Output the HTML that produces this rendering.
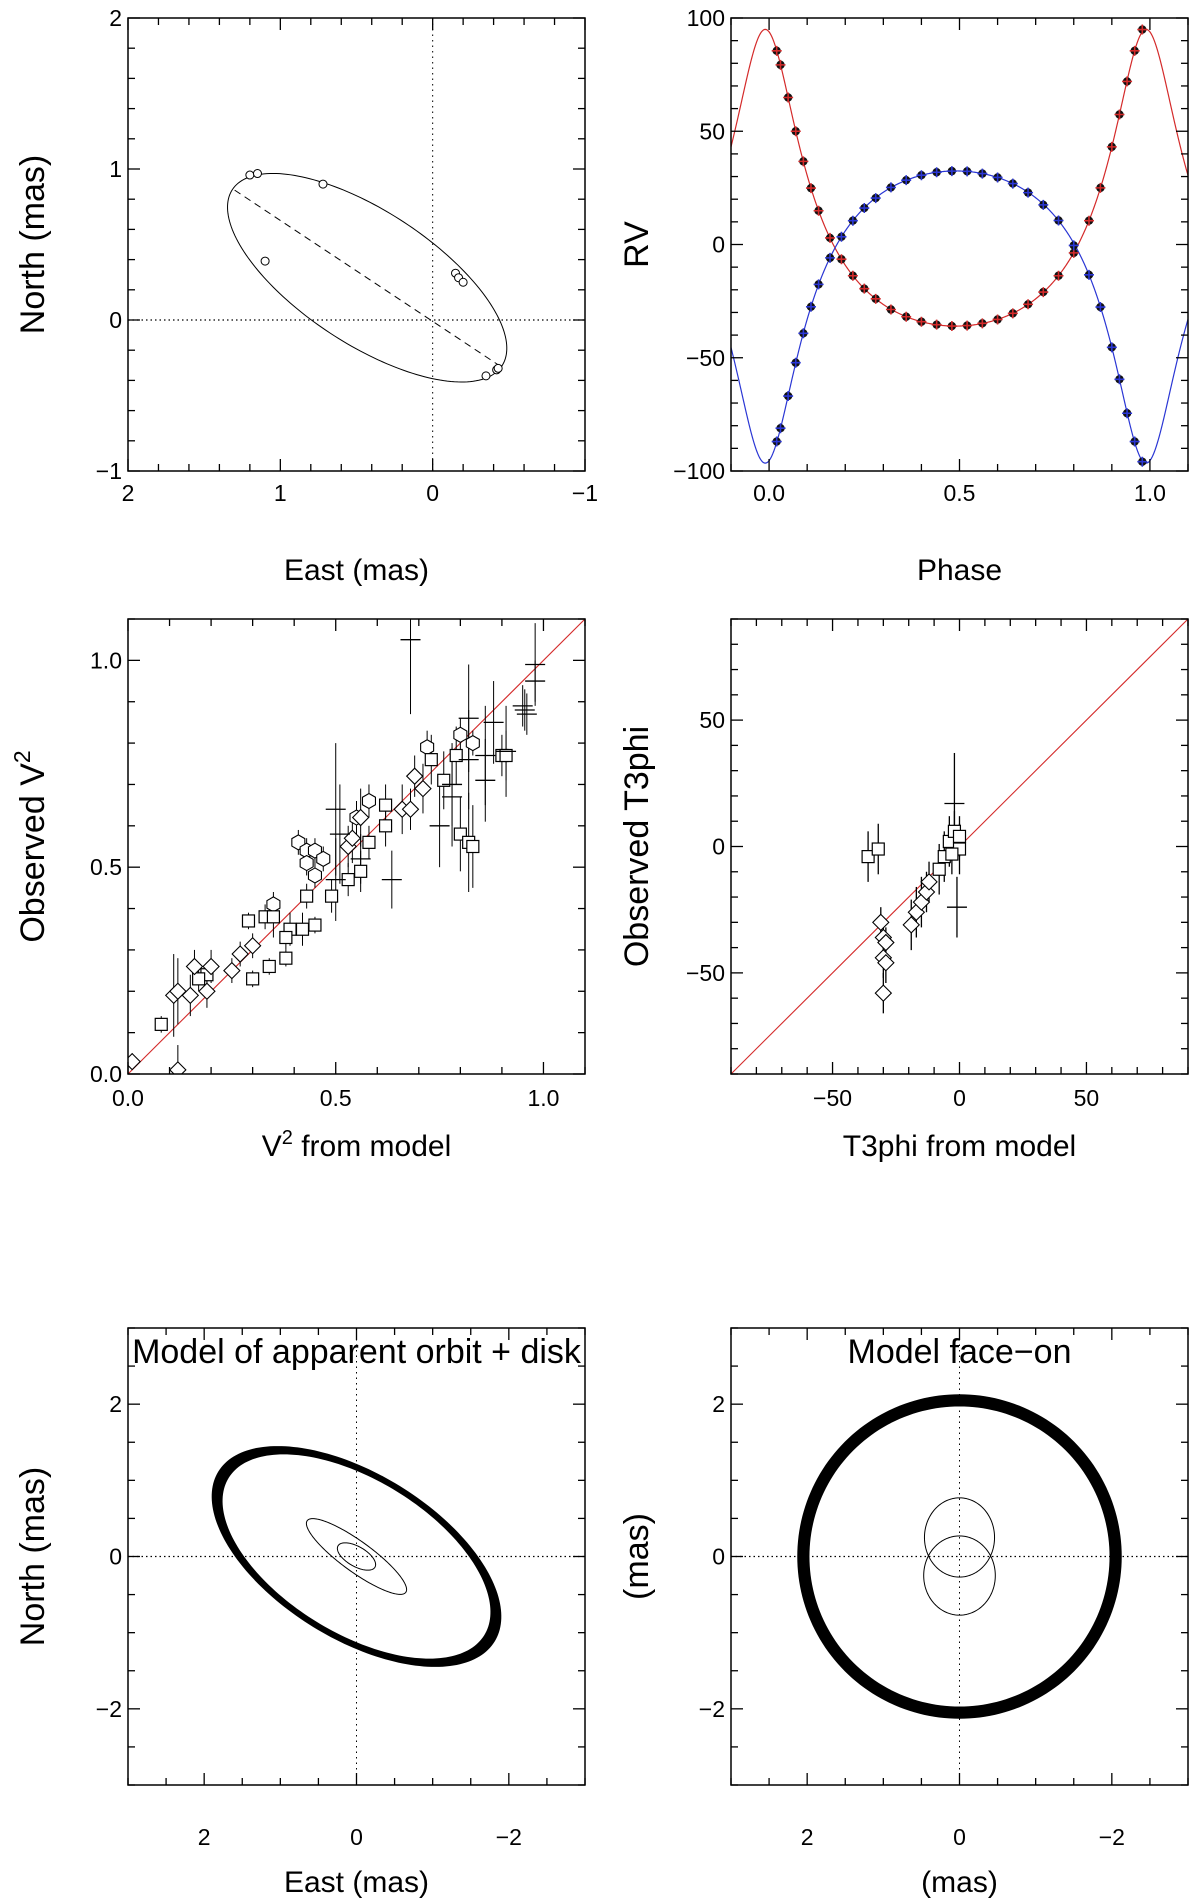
<!DOCTYPE html>
<html><head><meta charset="utf-8"><style>
html,body{margin:0;padding:0;background:#fff;}
svg{display:block;font-family:"Liberation Sans",sans-serif;}
</style></head><body>
<svg id="fig" width="1200" height="1900" viewBox="0 0 1200 1900" xmlns="http://www.w3.org/2000/svg"></svg>
<script>
// ===== Data =====
const orbitEllipse = {cx:0.43, cy:0.28, a:1.06, b:0.44, angDeg:33.5};
const nodeLine = [[1.30,0.86],[-0.45,-0.31]];
const astroE = [1.20,1.15,0.72,1.10,-0.15,-0.17,-0.20,-0.35,-0.42,-0.43];
const astroN = [0.96,0.97,0.90,0.39,0.31,0.28,0.25,-0.37,-0.33,-0.32];
const rvEcc = 0.45, rvT0 = -0.01;
const rvK1 = 65.5, rvGamma1 = 0.0, rvOmega1 = 0;
const rvK2 = 64.5, rvGamma2 = -3.0, rvOmega2 = 180;
const rvPhase = [0.02,0.03,0.05,0.07,0.09,0.11,0.13,0.16,0.19,0.22,0.25,0.28,0.32,0.36,0.40,0.44,0.48,0.52,0.56,0.60,0.64,0.68,0.72,0.76,0.80,0.84,0.87,0.90,0.92,0.94,0.96,0.98];
const rvRed = [85.5,79.3,64.9,50.0,36.7,24.9,14.9,2.9,-6.5,-13.8,-19.5,-24.0,-28.7,-31.9,-34.1,-35.4,-36.0,-35.8,-34.8,-33.1,-30.4,-26.4,-21.0,-13.8,-3.7,10.5,25.0,43.1,57.4,72.0,85.5,94.9];
const rvBlue = [-87.0,-81.1,-66.9,-52.2,-39.2,-27.5,-17.6,-5.9,3.4,10.5,16.1,20.5,25.2,28.4,30.6,31.9,32.4,32.3,31.3,29.6,26.9,22.9,17.5,10.6,-0.4,-13.4,-27.6,-45.4,-59.5,-74.5,-87.0,-95.9];
const v2Model = [0.41,0.43,0.45,0.43,0.47,0.45,0.35,0.80,0.83,0.72,0.55,0.58,
 0.08,0.19,0.17,0.29,0.33,0.35,0.39,0.42,0.45,0.38,0.43,0.30,0.34,0.38,0.49,0.53,0.56,0.58,0.62,0.62,0.73,0.76,0.79,0.80,0.82,0.83,0.90,0.91,
 0.01,0.12,0.11,0.12,0.15,0.16,0.20,0.19,0.25,0.27,0.30,0.53,0.54,0.56,0.66,0.68,0.69,0.71,
 0.68,0.98,0.98,0.95,0.955,0.96,0.82,0.88,0.86,0.86,0.75,0.78,0.78,0.635,0.50,0.51,0.50,0.56,0.82,0.91];
const v2Obs = [0.56,0.54,0.54,0.51,0.52,0.48,0.41,0.82,0.80,0.79,0.62,0.66,
 0.12,0.24,0.23,0.37,0.38,0.38,0.35,0.35,0.36,0.33,0.43,0.23,0.26,0.28,0.43,0.47,0.49,0.56,0.60,0.65,0.76,0.71,0.77,0.58,0.56,0.55,0.77,0.77,
 0.03,0.01,0.19,0.20,0.19,0.26,0.26,0.20,0.25,0.29,0.31,0.55,0.57,0.62,0.64,0.64,0.72,0.69,
 1.05,0.99,0.95,0.89,0.88,0.87,0.86,0.85,0.77,0.71,0.60,0.67,0.70,0.47,0.64,0.58,0.47,0.52,0.76,0.78];
const v2Err = [0.03,0.03,0.03,0.03,0.03,0.03,0.03,0.04,0.03,0.04,0.04,0.04,
 0.02,0.03,0.03,0.02,0.03,0.05,0.04,0.04,0.02,0.03,0.03,0.02,0.02,0.02,0.04,0.04,0.05,0.04,0.05,0.05,0.06,0.07,0.07,0.09,0.12,0.1,0.05,0.06,
 0.02,0.06,0.1,0.08,0.05,0.04,0.04,0.04,0.03,0.03,0.03,0.05,0.06,0.07,0.06,0.05,0.05,0.06,
 0.18,0.1,0.05,0.05,0.05,0.05,0.13,0.1,0.12,0.1,0.1,0.12,0.1,0.07,0.16,0.12,0.1,0.06,0.12,0.11];
const v2Type = ['h','h','h','h','h','h','h','h','h','h','h','h',
 's','s','s','s','s','s','s','s','s','s','s','s','s','s','s','s','s','s','s','s','s','s','s','s','s','s','s','s',
 'd','d','d','d','d','d','d','d','d','d','d','d','d','d','d','d','d','d',
 'x','x','x','x','x','x','x','x','x','x','x','x','x','x','x','x','x','x','x','x'];
const t3Model = [-36,-32,-31,-30,-29,-30,-29,-30,-19,-17,-15,-13,-12,-8,-6,-4,-2,0,-2,-1,0,-3];
const t3Obs = [-4,-1,-30,-36,-38,-44,-46,-58,-31,-26,-22,-18,-14,-9,-4,2,6,-1,17,-24,4,-3];
const t3Err = [10,10,6,8,6,8,8,8,10,10,10,8,8,10,10,10,8,10,20,12,8,8];
const t3Type = ['s','s','d','d','d','d','d','d','d','d','d','d','d','s','s','s','s','s','x','x','s','s'];
const diskOuter = 2.13, diskInner = 1.97, diskCosI = 0.51, diskPA = 31.6;
const appOrbits = [{a:0.80,b:0.20,ang:36},{a:0.28,b:0.13,ang:30}];
const faceOrbits = [{cx:0,cy:0.25,rx:0.46,ry:0.52},{cx:0,cy:-0.25,rx:0.47,ry:0.52}];

// ===== Rendering =====
const NS='http://www.w3.org/2000/svg';
const svg=document.getElementById('fig');
function el(tag,attrs,parent){const e=document.createElementNS(NS,tag);for(const k in attrs)e.setAttribute(k,attrs[k]);(parent||svg).appendChild(e);return e;}
function panel(box,xd,yd){
  const sx=v=>box.x+(v-xd[0])/(xd[1]-xd[0])*box.w;
  const sy=v=>box.y+box.h-(v-yd[0])/(yd[1]-yd[0])*box.h;
  return {box,xd,yd,sx,sy};
}
function fmt(v,dec){let s=v.toFixed(dec);if(v<0)s='\u2212'+(-v).toFixed(dec);return s;}
function axes(p,g,o){
  const b=p.box;
  const fr=el('rect',{x:b.x,y:b.y,width:b.w,height:b.h,fill:'none',stroke:'#000','stroke-width':1.5},g);
  
  
  const lo=(a)=>Math.min(a[0],a[1]),hi=(a)=>Math.max(a[0],a[1]);
  for(let v=Math.ceil(lo(p.xd)/o.xmin-1e-9)*o.xmin;v<=hi(p.xd)+1e-9;v+=o.xmin){
    const maj=Math.abs(v/o.xmaj-Math.round(v/o.xmaj))<1e-6;const L=maj?12:7;const X=p.sx(v);
    el('line',{x1:X,x2:X,y1:b.y+b.h,y2:b.y+b.h-L,stroke:'#000','stroke-width':1.3},g);
    el('line',{x1:X,x2:X,y1:b.y,y2:b.y+L,stroke:'#000','stroke-width':1.3},g);
  }
  for(let v=Math.ceil(lo(p.yd)/o.ymin-1e-9)*o.ymin;v<=hi(p.yd)+1e-9;v+=o.ymin){
    const maj=Math.abs(v/o.ymaj-Math.round(v/o.ymaj))<1e-6;const L=maj?12:7;const Y=p.sy(v);
    el('line',{x1:b.x,x2:b.x+L,y1:Y,y2:Y,stroke:'#000','stroke-width':1.3},g);
    el('line',{x1:b.x+b.w,x2:b.x+b.w-L,y1:Y,y2:Y,stroke:'#000','stroke-width':1.3},g);
  }
  o.xlabels.forEach(v=>{const t=el('text',{x:p.sx(v),y:b.y+b.h+o.xlOff,'font-size':23,'text-anchor':'middle'},g);t.textContent=fmt(v,o.xdec);
    });
  o.ylabels.forEach(v=>{const t=el('text',{x:b.x-6,y:p.sy(v)+8,'font-size':23,'text-anchor':'end'},g);t.textContent=fmt(v,o.ydec);
    });
  const xt=el('text',{x:b.x+b.w/2,y:o.xtY,'font-size':30,'text-anchor':'middle'},g);xt.innerHTML=o.xt;
  
  const yx=o.ytX, yy=b.y+b.h/2;
  const yt=el('text',{x:yx,y:yy,'font-size':34,'text-anchor':'middle',transform:`rotate(-90 ${yx} ${yy})`},g);yt.innerHTML=o.yt;
  
}
function ellipsePath(p,cx,cy,a,b,angDeg){
  const t=angDeg*Math.PI/180;let d='';
  for(let i=0;i<=200;i++){const u=i/200*2*Math.PI;
    const x=cx+a*Math.cos(u)*Math.cos(t)-b*Math.sin(u)*Math.sin(t);
    const y=cy+a*Math.cos(u)*Math.sin(t)+b*Math.sin(u)*Math.cos(t);
    d+=(i?'L':'M')+p.sx(x).toFixed(2)+','+p.sy(y).toFixed(2);}
  return d+'Z';
}
function clip(p,id){const c=el('clipPath',{id});el('rect',{x:p.box.x,y:p.box.y,width:p.box.w,height:p.box.h},c);return `url(#${id})`;}
function zeroLines(p,g){
  el('line',{x1:p.sx(0),x2:p.sx(0),y1:p.box.y,y2:p.box.y+p.box.h,stroke:'#000','stroke-width':1,'stroke-dasharray':'1.5,4'},g);
  el('line',{x1:p.box.x,x2:p.box.x+p.box.w,y1:p.sy(0),y2:p.sy(0),stroke:'#000','stroke-width':1.2,'stroke-dasharray':'1.5,3'},g);
}
function group(name){const g=el('g',{});return g;}

(function(){
  const g=group('astrometric-orbit-panel');
  const p=panel({x:128,y:18,w:457,h:453},[2,-1],[-1,2]);
  zeroLines(p,g);
  const e=el('path',{d:ellipsePath(p,orbitEllipse.cx,orbitEllipse.cy,orbitEllipse.a,orbitEllipse.b,orbitEllipse.angDeg),fill:'none',stroke:'#000','stroke-width':1},g);
  
  const nl=el('line',{x1:p.sx(nodeLine[0][0]),y1:p.sy(nodeLine[0][1]),x2:p.sx(nodeLine[1][0]),y2:p.sy(nodeLine[1][1]),stroke:'#000','stroke-width':1,'stroke-dasharray':'7,5'},g);
  
  astroE.forEach((x,i)=>{const c=el('circle',{cx:p.sx(x),cy:p.sy(astroN[i]),r:4,fill:'#fff',stroke:'#000','stroke-width':1},g);
    });
  axes(p,g,{xmin:0.2,xmaj:1,ymin:0.2,ymaj:1,xlabels:[2,1,0,-1],ylabels:[-1,0,1,2],xdec:0,ydec:0,xlOff:30,xtY:580,ytX:44,xt:'East (mas)',yt:'North (mas)'});
})();

function rvModel(ph,K,g0,omDeg){
  const M=2*Math.PI*(ph-rvT0);let E=M;
  for(let k=0;k<50;k++)E=M+rvEcc*Math.sin(E);
  const nu=2*Math.atan2(Math.sqrt(1+rvEcc)*Math.sin(E/2),Math.sqrt(1-rvEcc)*Math.cos(E/2));
  const w=omDeg*Math.PI/180;
  return g0+K*(Math.cos(nu+w)+rvEcc*Math.cos(w));
}
(function(){
  const g=group('radial-velocity-panel');
  const p=panel({x:731,y:18,w:457,h:453},[-0.1,1.1],[-100,100]);
  const cp=clip(p,'c2');
  const gg=el('g',{'clip-path':cp},g);
  [[rvK1,rvGamma1,rvOmega1,'#d42a2a','rv-model-primary'],[rvK2,rvGamma2,rvOmega2,'#2a36d4','rv-model-secondary']].forEach(s=>{
    let d='';for(let i=0;i<=600;i++){const ph=-0.1+1.2*i/600;d+=(i?'L':'M')+p.sx(ph).toFixed(2)+','+p.sy(rvModel(ph,s[0],s[1],s[2])).toFixed(2);}
    const l=el('path',{d,fill:'none',stroke:s[3],'stroke-width':1.2},gg);
    
  });
  [[rvRed,'#d42a2a'],[rvBlue,'#2a36d4']].forEach(s=>{
    rvPhase.forEach((ph,i)=>{
      const X=p.sx(ph),Y=p.sy(s[0][i]);
      const c=el('circle',{cx:X,cy:Y,r:4.2,fill:'#111'},gg);
      
      const pl=el('path',{d:`M${X-5},${Y}H${X+5}M${X},${Y-5}V${Y+5}`,stroke:s[1],'stroke-width':1.6},gg);
      
    });
  });
  axes(p,g,{xmin:0.1,xmaj:0.5,ymin:10,ymaj:50,xlabels:[0,0.5,1.0],ylabels:[-100,-50,0,50,100],xdec:1,ydec:0,xlOff:30,xtY:580,ytX:648,xt:'Phase',yt:'RV'});
})();

function marker(g,type,X,Y){
  let m;
  if(type==='s')m=el('rect',{x:X-6,y:Y-6,width:12,height:12,fill:'#fff',stroke:'#000','stroke-width':1.2},g);
  else if(type==='d')m=el('path',{d:`M${X},${Y-8}L${X+8},${Y}L${X},${Y+8}L${X-8},${Y}Z`,fill:'#fff',stroke:'#000','stroke-width':1.1},g);
  else if(type==='h'){let d='';for(let k=0;k<6;k++){const a=Math.PI/6+k*Math.PI/3;d+=(k?'L':'M')+(X+7.5*Math.cos(a))+','+(Y+7.5*Math.sin(a));}m=el('path',{d:d+'Z',fill:'#fff',stroke:'#000','stroke-width':1.1},g);}
  else m=el('path',{d:`M${X-10},${Y}H${X+10}`,stroke:'#000','stroke-width':1.3},g);
  
}
(function(){
  const g=group('v2-comparison-panel');
  const p=panel({x:128,y:619,w:457,h:455},[0,1.1],[0,1.1]);
  const gg=el('g',{'clip-path':clip(p,'c3')},g);
  const l=el('line',{x1:p.sx(0),y1:p.sy(0),x2:p.sx(1.1),y2:p.sy(1.1),stroke:'#d42a2a','stroke-width':1.1},gg);
  
  v2Model.forEach((x,i)=>{
    const X=p.sx(x);
    const eb=el('line',{x1:X,x2:X,y1:p.sy(v2Obs[i]-v2Err[i]),y2:p.sy(v2Obs[i]+v2Err[i]),stroke:'#000','stroke-width':1},gg);
    
  });
  v2Model.forEach((x,i)=>marker(gg,v2Type[i],p.sx(x),p.sy(v2Obs[i])));
  axes(p,g,{xmin:0.1,xmaj:0.5,ymin:0.1,ymaj:0.5,xlabels:[0,0.5,1.0],ylabels:[0,0.5,1.0],xdec:1,ydec:1,xlOff:32,xtY:1156,ytX:44,xt:'V<tspan dy="-12" font-size="20">2</tspan><tspan dy="12"> from model</tspan>',yt:'Observed V<tspan dy="-14" font-size="23">2</tspan>'});
})();
(function(){
  const g=group('t3phi-comparison-panel');
  const p=panel({x:731,y:619,w:457,h:455},[-90,90],[-90,90]);
  const gg=el('g',{'clip-path':clip(p,'c4')},g);
  const l=el('line',{x1:p.sx(-90),y1:p.sy(-90),x2:p.sx(90),y2:p.sy(90),stroke:'#d42a2a','stroke-width':1.1},gg);
  
  t3Model.forEach((x,i)=>{
    const X=p.sx(x);
    const eb=el('line',{x1:X,x2:X,y1:p.sy(t3Obs[i]-t3Err[i]),y2:p.sy(t3Obs[i]+t3Err[i]),stroke:'#000','stroke-width':1.3},gg);
    
  });
  t3Model.forEach((x,i)=>marker(gg,t3Type[i],p.sx(x),p.sy(t3Obs[i])));
  axes(p,g,{xmin:10,xmaj:50,ymin:10,ymaj:50,xlabels:[-50,0,50],ylabels:[-50,0,50],xdec:0,ydec:0,xlOff:32,xtY:1156,ytX:648,xt:'T3phi from model',yt:'Observed T3phi'});
})();
function ring(p,g,cosI,pa){
  const d=ellipsePath(p,0,0,diskOuter,diskOuter*cosI,pa)+ellipsePath(p,0,0,diskInner,diskInner*cosI,pa);
  const r=el('path',{d,fill:'#000','fill-rule':'evenodd'},g);
  
}
(function(){
  const g=group('apparent-orbit-model-panel');
  const p=panel({x:128,y:1328,w:457,h:457},[3,-3],[-3,3]);
  zeroLines(p,g);
  ring(p,g,diskCosI,diskPA);
  appOrbits.forEach(o=>{const e=el('path',{d:ellipsePath(p,0,0,o.a,o.b,o.ang),fill:'none',stroke:'#000','stroke-width':1},g);
    });
  const t=el('text',{x:p.box.x+p.box.w/2,y:p.box.y+35,'font-size':34,'text-anchor':'middle'},g);t.textContent='Model of apparent orbit + disk';
  
  axes(p,g,{xmin:0.5,xmaj:2,ymin:0.5,ymaj:2,xlabels:[2,0,-2],ylabels:[-2,0,2],xdec:0,ydec:0,xlOff:60,xtY:1892,ytX:44,xt:'East (mas)',yt:'North (mas)'});
})();
(function(){
  const g=group('face-on-model-panel');
  const p=panel({x:731,y:1328,w:457,h:457},[3,-3],[-3,3]);
  zeroLines(p,g);
  ring(p,g,1,0);
  faceOrbits.forEach(o=>{const e=el('path',{d:ellipsePath(p,o.cx,o.cy,o.rx,o.ry,0),fill:'none',stroke:'#000','stroke-width':1},g);
    });
  const t=el('text',{x:p.box.x+p.box.w/2,y:p.box.y+35,'font-size':34,'text-anchor':'middle'},g);t.textContent='Model face\u2212on';
  
  axes(p,g,{xmin:0.5,xmaj:2,ymin:0.5,ymaj:2,xlabels:[2,0,-2],ylabels:[-2,0,2],xdec:0,ydec:0,xlOff:60,xtY:1892,ytX:648,xt:'(mas)',yt:'(mas)'});
})();
</script>
</body></html>
